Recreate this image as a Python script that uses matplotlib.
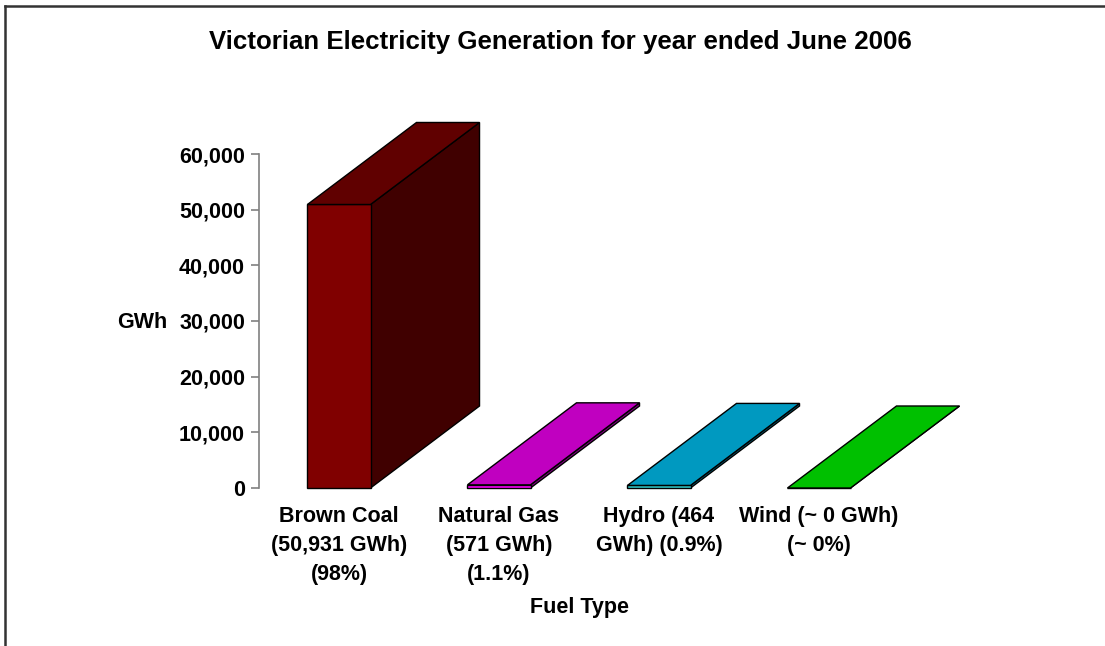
import matplotlib
matplotlib.use("Agg")
import matplotlib.pyplot as plt
from matplotlib.patches import Polygon
from matplotlib.lines import Line2D

categories = ["Brown Coal\n(50,931 GWh)\n(98%)", "Natural Gas\n(571 GWh)\n(1.1%)",
              "Hydro (464\nGWh) (0.9%)", "Wind (~ 0 GWh)\n(~ 0%)"]
values = [50931, 571, 464, 0]
front_colors = ["#800000", "#FF00FF", "#33CCCC", "#00C000"]
top_colors = ["#600000", "#C000C0", "#0099C0", "#00C000"]
side_colors = ["#400000", "#800080", "#006680", "#008000"]
yticks = [0, 10000, 20000, 30000, 40000, 50000, 60000]
ytick_labels = ["0", "10,000", "20,000", "30,000", "40,000", "50,000", "60,000"]

plt.rcParams['font.family'] = ['Liberation Sans', 'DejaVu Sans']
plt.rcParams['font.weight'] = 'bold'

W, H = 1105, 646
fig = plt.figure(figsize=(W/100, H/100), dpi=100)

# axes: x from -0.5 to 3.5 maps to px 259..899 ; y 0..60000 maps to px 488..154
x0, x1 = 259, 899
ytop, ybot = 154, 488
ax = fig.add_axes([x0/W, 1-ybot/H, (x1-x0)/W, (ybot-ytop)/H])
ax.set_xlim(-0.5, 3.5)
ax.set_ylim(0, 60000)

bar_w = 0.394
depth_x = 109/160
depth_y = 82 * 60000 / (ybot-ytop)

for i, v in enumerate(values):
    xl = i - bar_w/2
    xr = i + bar_w/2
    front = [(xl, 0), (xr, 0), (xr, v), (xl, v)]
    side = [(xr, 0), (xr+depth_x, depth_y), (xr+depth_x, v+depth_y), (xr, v)]
    top = [(xl, v), (xr, v), (xr+depth_x, v+depth_y), (xl+depth_x, v+depth_y)]
    for pts, c in ((side, side_colors[i]), (front, front_colors[i]), (top, top_colors[i])):
        ax.add_patch(Polygon(pts, closed=True, facecolor=c, edgecolor="black",
                             linewidth=1.0, clip_on=False, zorder=3))

for s in ["top", "right", "bottom"]:
    ax.spines[s].set_visible(False)
ax.spines["left"].set_color("#808080")
ax.spines["left"].set_linewidth(1.2)
ax.set_yticks(yticks)
ax.set_yticklabels(ytick_labels, fontsize=15.5, fontweight="bold")
ax.tick_params(axis="y", length=6, width=1.2, color="#808080", pad=4)
ax.set_xticks(range(len(categories)))
ax.set_xticklabels(categories, fontsize=15.5, fontweight="bold", linespacing=1.5)
ax.tick_params(axis="x", length=0, pad=13)
ax.patch.set_visible(False)

fig.text(560/W, 1-42/H, "Victorian Electricity Generation for year ended June 2006",
         ha="center", va="center", fontsize=18.6, fontweight="bold")
fig.text(142/W, 1-322/H, "GWh", ha="center", va="center", fontsize=15.5, fontweight="bold")
fig.text(580/W, 1-608/H, "Fuel Type", ha="center", va="center", fontsize=15.5, fontweight="bold")

# outer frame (left and top edges)
fig.add_artist(Line2D([5/W, 5/W], [0, 1-6/H], color="#333333", linewidth=1.8))
fig.add_artist(Line2D([5/W, 1], [1-6/H, 1-6/H], color="#333333", linewidth=1.8))

fig.savefig("out.png", dpi=100, facecolor="white")
